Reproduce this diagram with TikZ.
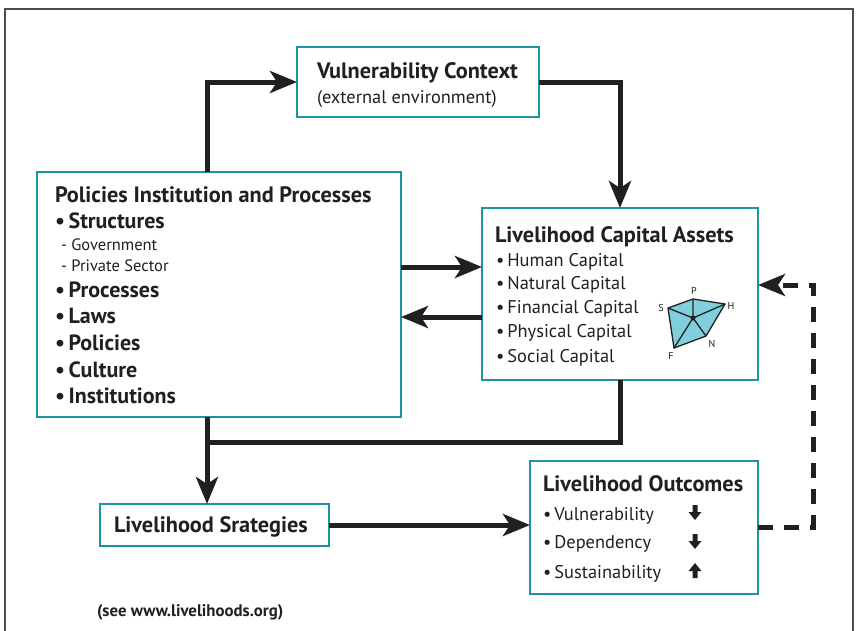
\documentclass[tikz,border=0pt]{standalone}
\usepackage{fontspec}
\setmainfont{PT Sans}
\usetikzlibrary{arrows.meta,calc}
\definecolor{teal1}{HTML}{1B93A3}
\definecolor{ink}{HTML}{231F20}
\definecolor{pent}{HTML}{7FCFDC}
\begin{document}
\begin{tikzpicture}[x=1pt,y=-1pt,
  box/.style={draw=teal1, line width=2.4pt, fill=white, inner sep=0pt, outer sep=0pt, anchor=north west},
  txt/.style={anchor=base west, inner sep=0pt, outer sep=0pt, text=ink},
  ttl/.style={txt, font=\fontsize{22.3}{22}\selectfont\bfseries},
  big/.style={txt, font=\fontsize{22}{22}\selectfont\bfseries},
  reg/.style={txt, font=\fontsize{18.4}{18}\selectfont},
  sml/.style={txt, font=\fontsize{16.5}{16}\selectfont},
  conn/.style={draw=ink, line width=5pt},
  arr/.style={conn, -{Stealth[length=27pt, width=22pt, inset=7pt]}},
  dasharr/.style={draw=ink, line width=5pt, dash pattern=on 15pt off 11pt, -{Stealth[length=27pt, width=22pt, inset=7pt]}},
  plabel/.style={inner sep=0pt, text=ink, font=\fontsize{10}{10}\selectfont},
  updn/.style={fill=ink}
]
\useasboundingbox (0,0) rectangle (857,630);
% outer frame
\draw[ink!80, line width=1.5pt] (5,640) -- (5,9) -- (853,9) -- (853,640);

% boxes
\node[box, minimum width=242pt, minimum height=70pt] (vc) at (297,47) {};
\node[box, minimum width=364pt, minimum height=245pt] (pip) at (37,172) {};
\node[box, minimum width=276pt, minimum height=172pt] (lca) at (482,208) {};
\node[box, minimum width=229pt, minimum height=42pt] (ls) at (100,504) {};
\node[box, minimum width=228pt, minimum height=133pt] (lo) at (530,461) {};

% connectors
\coordinate (pipup) at (207,172);
\coordinate (pipdn) at (207,417);
\coordinate (join) at (207,442);
\coordinate (dashc) at (813,527);
\draw[arr] (pipup) |- (vc.west);
\draw[arr] (vc.east) -| (lca.north);
\draw[arr] (pip.east |- 0,267) -- (lca.west |- 0,267);
\draw[arr] (lca.west |- 0,317) -- (pip.east |- 0,317);
\draw[arr] (pipdn) -- (pipdn |- ls.north);
\draw[conn] (lca.south) |- (join);
\draw[arr] (ls.east) -- (ls.east -| lo.west);
\draw[dasharr] (lo.east |- dashc) -| (dashc |- 0,285) -- (lca.east |- 0,285);

% Vulnerability context text
\node[ttl] (vct) at (317,78) {Vulnerability Context};
\node[reg] (vcs) at (317,103) {(external environment)};

% PIP text
\node[ttl] (pipt) at (55,202) {Policies Institution and Processes};
\node[big] (p1) at (55,228) {\textbullet\,Structures};
\node[sml] (p1a) at (61,250) {- Government};
\node[sml] (p1b) at (61,271) {- Private Sector};
\node[big] (p2) at (55,297) {\textbullet\,Processes};
\node[big] (p3) at (55,323) {\textbullet\,Laws};
\node[big] (p4) at (55,350) {\textbullet\,Policies};
\node[big] (p5) at (55,377) {\textbullet\,Culture};
\node[big] (p6) at (55,403) {\textbullet\,Institutions};

% LCA text
\node[ttl] (lcat) at (495,242) {Livelihood Capital Assets};
\node[reg] (l1) at (496,266) {\textbullet\,Human Capital};
\node[reg] (l2) at (496,289) {\textbullet\,Natural Capital};
\node[reg] (l3) at (496,313) {\textbullet\,Financial Capital};
\node[reg] (l4) at (496,337) {\textbullet\,Physical Capital};
\node[reg] (l5) at (496,362) {\textbullet\,Social Capital};

% pentagon
\coordinate (pS) at (668,308);
\coordinate (pP) at (693,299);
\coordinate (pH) at (725,304);
\coordinate (pN) at (706,336);
\coordinate (pF) at (674,348);
\coordinate (pC) at (693,318);
\filldraw[fill=pent, draw=ink, line width=1.3pt, line join=round] (pS) -- (pP) -- (pH) -- (pN) -- (pF) -- cycle;
\draw[ink, line width=1.3pt] (pC) -- (pS) (pC) -- (pP) (pC) -- (pH) (pC) -- (pN) (pC) -- (pF);
\fill[ink] (pC) circle (2.5pt);
\node[plabel] (lS) at (661,308) {S};
\node[plabel] (lP) at (694,291) {P};
\node[plabel] (lH) at (731,306) {H};
\node[plabel] (lN) at (712,344) {N};
\node[plabel] (lF) at (671,356) {F};

% Livelihood strategies
\node[ttl] (lst) at (114,532) {Livelihood Srategies};

% Livelihood outcomes
\node[ttl] (lot) at (543,491) {Livelihood Outcomes};
\node[reg] (o1) at (543,520) {\textbullet\,Vulnerability};
\node[reg] (o2) at (543,548) {\textbullet\,Dependency};
\node[reg] (o3) at (543,578) {\textbullet\,Sustainability};
% small arrows
\fill[updn] (692.5,505) rectangle (697.5,512) (688.5,512) -- (701.5,512) -- (695,520) -- cycle;
\fill[updn] (692.5,534) rectangle (697.5,541) (688.5,541) -- (701.5,541) -- (695,549) -- cycle;
\fill[updn] (692.5,578) rectangle (697.5,571) (688.5,571) -- (701.5,571) -- (695,563) -- cycle;

% footnote
\node[txt, font=\fontsize{16.8}{16}\selectfont\bfseries] (foot) at (97,616) {(see www.livelihoods.org)};
\end{tikzpicture}
\end{document}
